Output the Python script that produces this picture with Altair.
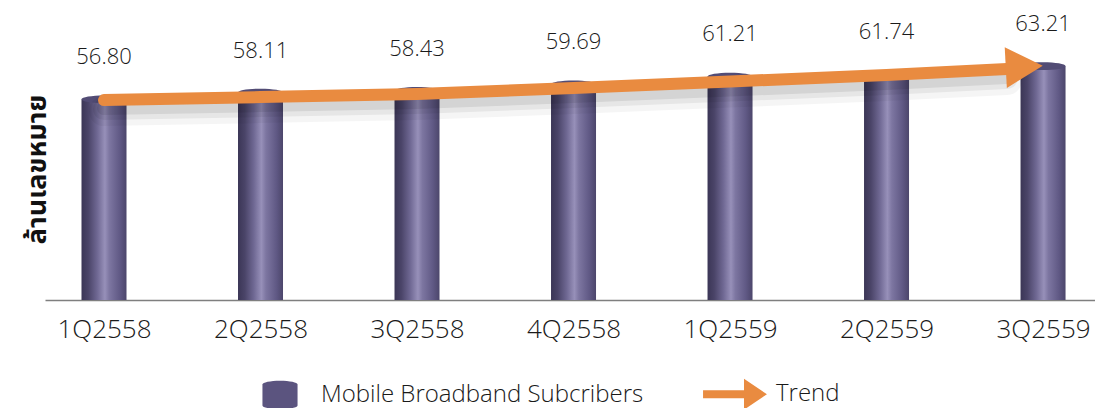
import altair as alt
import pandas as pd

# ---- data ----
quarters = ["1Q2558", "2Q2558", "3Q2558", "4Q2558", "1Q2559", "2Q2559", "3Q2559"]
subscribers = [56.80, 58.11, 58.43, 59.69, 61.21, 61.74, 63.21]

# trend arrow (hand drawn in the original), read in data units
trend_idx = [0, 1, 2, 3, 4, 5, 5.77]
trend_val = [56.64, 57.22, 57.81, 58.97, 60.23, 61.50, 62.66]
head_idx = [5.88]
head_val = [63.10]

series_names = ["Mobile Broadband Subcribers", "Trend"]
y_title = "ล้านเลขหมาย"

Y_MIN, Y_MAX = 18, 70
X_MIN, X_MAX = -0.377, 6.332

PURPLE = "#5b547f"
ORANGE = "#e98b40"
FONT = "Open Sans"

bars_df = pd.DataFrame({"idx": list(range(len(quarters))), "q": quarters, "v": subscribers})
trend_df = pd.DataFrame({"idx": trend_idx, "v": trend_val})
head_df = pd.DataFrame({"idx": head_idx, "v": head_val})
legend_df = pd.DataFrame({"series": series_names})

label_expr = "[" + ",".join(f"'{q}'" for q in quarters) + "][datum.value]"

xscale = alt.Scale(domain=[X_MIN, X_MAX], nice=False, zero=False, padding=0)
yscale = alt.Scale(domain=[Y_MIN, Y_MAX], nice=False, zero=False, padding=0)

x_enc = alt.X(
    "idx:Q",
    scale=xscale,
    axis=alt.Axis(
        values=list(range(len(quarters))),
        labelExpr=label_expr,
        title=None,
        grid=False,
        ticks=False,
        domainColor="#7f7f7f",
        domainWidth=1.5,
        labelFont=FONT,
        labelFontSize=26,
        labelFontWeight=300,
        labelColor="#1a1a1a",
        labelPadding=16,
    ),
)
y_enc = alt.Y(
    "v:Q",
    scale=yscale,
    axis=alt.Axis(
        title=y_title,
        labels=False,
        ticks=False,
        domain=False,
        grid=False,
        titleFont="Noto Sans Thai, Noto Sans, DejaVu Sans, sans-serif",
        titleFontSize=27,
        titleFontWeight="bold",
        titleColor="#111111",
        titleAngle=270,
        titleX=-8,
        titleY=138,
        titleAlign="center",
        titleBaseline="middle",
    ),
)

gradient = alt.Gradient(
    gradient="linear",
    x1=0, x2=1, y1=0, y2=0,
    stops=[
        alt.GradientStop(color="#3b3656", offset=0),
        alt.GradientStop(color="#4a4468", offset=0.15),
        alt.GradientStop(color="#6f6893", offset=0.35),
        alt.GradientStop(color="#9790b9", offset=0.52),
        alt.GradientStop(color="#7d76a1", offset=0.62),
        alt.GradientStop(color="#605985", offset=0.85),
        alt.GradientStop(color="#4c466b", offset=1),
    ],
)

bars = alt.Chart(bars_df).mark_bar(
    size=45, orient="vertical", color=gradient, clip=True
).encode(x=x_enc, y=y_enc)

ellipse = "M -1 0 A 1 0.17 0 1 0 1 0 A 1 0.17 0 1 0 -1 0 Z"
tops = alt.Chart(bars_df).mark_point(
    shape=ellipse, size=2025, filled=True, color="#524c75", opacity=1
).encode(x="idx:Q", y="v:Q")

labels = alt.Chart(bars_df).mark_text(
    dy=-42, font=FONT, fontSize=22, fontWeight=300, color="#1a1a1a", baseline="middle"
).encode(x="idx:Q", y="v:Q", text=alt.Text("v:Q", format=".2f"))

shadows = [
    alt.Chart(trend_df).mark_line(
        color="#000000", opacity=op, strokeWidth=sw, yOffset=off, strokeCap="round"
    ).encode(x="idx:Q", y="v:Q", order="idx:Q")
    for op, sw, off in [(0.04, 30, 11), (0.06, 22, 9), (0.08, 14, 8)]
]

trend = alt.Chart(trend_df).mark_line(
    color=ORANGE, strokeWidth=12, strokeCap="round"
).encode(x="idx:Q", y="v:Q", order="idx:Q")

head_path = "M -1 -1.1 L 1 0 L -1 1.1 Z"
head = alt.Chart(head_df).mark_point(
    shape=head_path, size=1369, filled=True, color=ORANGE, opacity=1, angle=357
).encode(x="idx:Q", y="v:Q")

# legend symbols drawn in a 30px box (r = 15) and allowed to overflow it
cyl_path = ("M -1.17 -0.7 A 1.17 0.25 0 0 1 1.17 -0.7 L 1.17 0.7 "
            "A 1.17 0.25 0 0 1 -1.17 0.7 Z")
arrow_path = ("M -2.13 -0.27 L 0.6 -0.27 L 0.6 -1.03 L 2.13 0 L 0.6 1.03 "
              "L 0.6 0.27 L -2.13 0.27 Z")

legend_props = dict(
    title=None,
    orient="none",
    direction="horizontal",
    legendX=220,
    legendY=348,
    symbolSize=900,
    symbolOpacity=1,
    symbolStrokeWidth=0,
    labelFont=FONT,
    labelFontSize=24,
    labelFontWeight=300,
    labelColor="#1a1a1a",
    labelOffset=26,
    labelLimit=0,
    columnPadding=59,
    padding=0,
)

legend_layer = alt.Chart(legend_df).mark_point(filled=True, opacity=0).encode(
    shape=alt.Shape(
        "series:N",
        scale=alt.Scale(domain=series_names, range=[cyl_path, arrow_path]),
        legend=alt.Legend(**legend_props),
    ),
    color=alt.Color(
        "series:N",
        scale=alt.Scale(domain=series_names, range=[PURPLE, ORANGE]),
        legend=alt.Legend(**legend_props),
    ),
)

chart = alt.layer(
    bars, tops, *shadows, trend, head, labels, legend_layer
).properties(
    width=1050,
    height=269,
    autosize=alt.AutoSizeParams(type="none"),
    padding={"left": 37, "top": 23, "right": 0, "bottom": 108},
).configure(background="white").configure_view(stroke=None)

chart.save("out.html", embed_options={"renderer": "svg", "actions": False})
